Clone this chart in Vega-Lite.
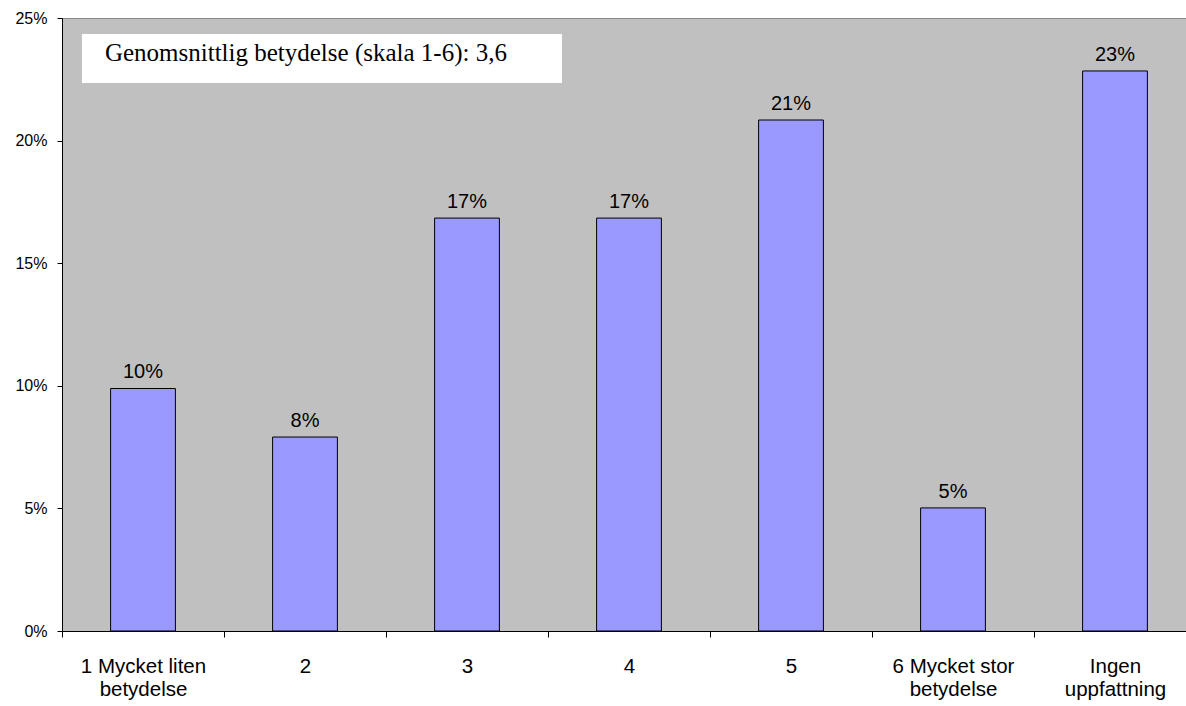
{
  "$schema": "https://vega.github.io/schema/vega-lite/v6.json",
  "autosize": "none",
  "padding": {"left": 62, "top": 18, "right": 0, "bottom": 75},
  "width": 1124,
  "height": 613,
  "background": "white",
  "config": {
    "view": {"fill": "#C0C0C0", "stroke": "#888888", "strokeWidth": 1},
    "font": "Liberation Sans",
    "axis": {"labelFont": "Liberation Sans", "labelColor": "black", "domainColor": "#000000", "tickColor": "#000000", "grid": false, "title": null}
  },
  "datasets": {
    "bars": [
      {"cat": "1 Mycket liten|betydelse", "value": 0.0989},
      {"cat": "2", "value": 0.0791},
      {"cat": "3", "value": 0.1684},
      {"cat": "4", "value": 0.1684},
      {"cat": "5", "value": 0.2084},
      {"cat": "6 Mycket stor|betydelse", "value": 0.0502},
      {"cat": "Ingen|uppfattning", "value": 0.2284}
    ],
    "note": [
      {"x1": 0.123, "x2": 3.086, "y1": 0.2435, "y2": 0.2235, "tx": 0.265, "ty": 0.2325, "label": "Genomsnittlig betydelse (skala 1-6): 3,6"}
    ]
  },
  "layer": [
    {
      "data": {"name": "bars"},
      "layer": [
        {
          "mark": {"type": "bar", "fill": "#9999FF", "stroke": "black", "strokeWidth": 1, "width": {"band": 0.4}},
          "encoding": {
            "x": {
              "field": "cat", "type": "nominal", "sort": null,
              "scale": {"range": [0, 1134], "paddingInner": 0, "paddingOuter": 0},
              "axis": {"labelAngle": 0, "tickBand": "extent", "tickSize": 6, "labelFontSize": 20.5, "labelLineHeight": 23, "labelPadding": 19, "labelExpr": "split(datum.label, '|')", "labelLimit": 300}
            },
            "y": {
              "field": "value", "type": "quantitative",
              "scale": {"domain": [0, 0.25], "nice": false},
              "axis": {"values": [0, 0.05, 0.1, 0.15, 0.2, 0.25], "format": ".0%", "tickSize": 5, "labelFontSize": 16, "labelPadding": 10}
            }
          }
        },
        {
          "mark": {"type": "text", "dy": -10, "baseline": "alphabetic", "fontSize": 20, "font": "Liberation Sans", "color": "black"},
          "encoding": {
            "x": {"field": "cat", "type": "nominal", "sort": null},
            "y": {"field": "value", "type": "quantitative"},
            "text": {"field": "value", "type": "quantitative", "format": ".0%"}
          }
        }
      ]
    },
    {
      "data": {"name": "note"},
      "layer": [
        {
          "mark": {"type": "rect", "fill": "white", "stroke": null},
          "encoding": {
            "x": {"field": "x1", "type": "quantitative", "scale": {"domain": [0, 7], "range": [0, 1134], "nice": false, "zero": false}, "axis": null},
            "x2": {"field": "x2"},
            "y": {"field": "y1", "type": "quantitative"},
            "y2": {"field": "y2"}
          }
        },
        {
          "mark": {"type": "text", "align": "left", "baseline": "alphabetic", "font": "Liberation Serif", "fontSize": 25, "color": "black"},
          "encoding": {
            "x": {"field": "tx", "type": "quantitative", "scale": {"domain": [0, 7], "range": [0, 1134], "nice": false, "zero": false}, "axis": null},
            "y": {"field": "ty", "type": "quantitative"},
            "text": {"field": "label"}
          }
        }
      ]
    }
  ],
  "resolve": {"scale": {"x": "independent"}}
}
